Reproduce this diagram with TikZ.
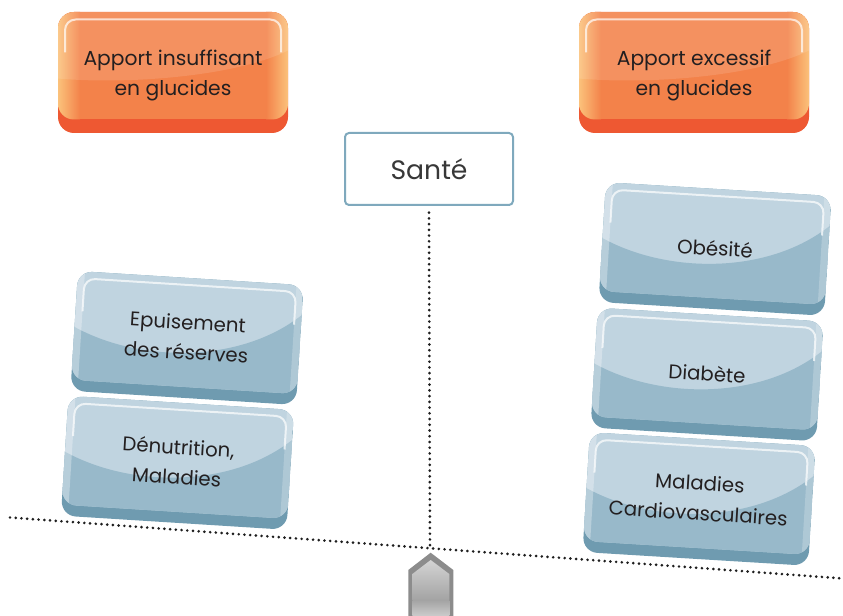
\documentclass[tikz,border=0pt]{standalone}
\usepackage{fontspec}
\setmainfont{Poppins}
\usetikzlibrary{calc}
\definecolor{txt}{HTML}{231F20}
\definecolor{blight}{HTML}{C0D4E0}
\definecolor{bdark}{HTML}{98B9CA}
\definecolor{bband}{HTML}{6F9BB0}
\definecolor{omid}{HTML}{F3824A}
\definecolor{oedge}{HTML}{FBC27B}
\definecolor{oband}{HTML}{EE5832}
\definecolor{santeline}{HTML}{7FA9BD}
\definecolor{fulcout}{HTML}{8C8C8C}
\definecolor{dotc}{HTML}{1E1E1E}
\newcommand{\gbox}[5]{%
\begin{scope}[shift={(#2,#3)}, rotate=#4]
  \fill[bband, rounded corners=11pt] (-113,-60) rectangle (113,60);
  \begin{scope}
    \clip[rounded corners=11pt] (-113,-60) rectangle (113,49);
    \fill[blight] (-113,-60) rectangle (113,49);
    \fill[bdark] (-113,-4) .. controls (-45,28) and (55,22) .. (113,-30) -- (113,49) -- (-113,49) -- cycle;
    \shade[left color=white, right color=white, middle color=white, opacity=0.0] (-113,-60) rectangle (-100,49);
    \fill[white, opacity=0.3] (-113,-60) rectangle (-106,49);
    \fill[white, opacity=0.22] (106,-60) rectangle (113,49);
  \end{scope}
  \draw[white, opacity=0.7, line width=1.5pt, rounded corners=8pt] (-106,-20) -- (-106,-53) -- (106,-53) -- (106,-20);
  \node[btext] (#1) at (0,-1) {#5};
\end{scope}}
\newcommand{\obox}[4]{%
\begin{scope}[shift={(#2,#3)}]
  \fill[oband, rounded corners=12pt] (-115,-60.5) rectangle (115,60.5);
  \begin{scope}
    \clip[rounded corners=12pt] (-115,-60.5) rectangle (115,47);
    \fill[omid] (-115,-60.5) rectangle (115,47);
    \shade[left color=oedge, right color=omid] (-115,-60.5) rectangle (-93,47);
    \shade[left color=omid, right color=oedge] (93,-60.5) rectangle (115,47);
    \fill[white, opacity=0.12] (-115,-60.5) -- (115,-60.5) -- (115,-22) .. controls (60,5) and (-50,12) .. (-115,6) -- cycle;
  \end{scope}
  \draw[white, opacity=0.7, line width=1.5pt, rounded corners=8pt] (-108,-20) -- (-108,-53) -- (108,-53) -- (108,-20);
  \node[otext] (#1) at (0,3) {#4};
\end{scope}}
\begin{document}
\begin{tikzpicture}[x=0.75pt, y=-0.75pt,
  btext/.style={align=center, text=txt, font=\fontsize{14.8}{22.5}\selectfont, transform shape, inner sep=0pt},
  otext/.style={align=center, text=txt, font=\fontsize{15.2}{22.5}\selectfont, inner sep=0pt},
  santebox/.style={draw=santeline, line width=1.5pt, fill=white, rounded corners=3pt, minimum width=126pt, minimum height=54pt, inner sep=0pt, text=black!78, font=\fontsize{20}{24}\selectfont},
  dotline/.style={dotc, line width=2.2pt, line cap=round, dash pattern=on 0pt off 4.3pt}]
\useasboundingbox (0,0) rectangle (843,616);
% beam and pivot
\coordinate (bL) at (10,517.5);
\coordinate (bR) at (843,578.5);
\coordinate (piv) at (430,548.3);
\draw[dotline] (bL) -- (bR);
% fulcrum
\fill[fulcout] (430.7,552.7) -- (453.3,570) -- (453.3,616) -- (408.3,616) -- (408.3,570) -- cycle;
\shade[top color=black!17, bottom color=black!36] (430.7,560) -- (449.3,574) -- (449.3,600) -- (412.3,600) -- (412.3,574) -- cycle;
\shade[top color=black!36, bottom color=black!20] (449.3,600) -- (449.3,616) -- (412.3,616) -- (412.3,600) -- cycle;
% top boxes
\obox{ins}{173}{72.5}{Apport insuffisant\\en glucides}
\obox{exc}{694}{72.5}{Apport excessif\\en glucides}
\node[santebox] (sante) at (429,169) {Santé};
\draw[dotline] ([yshift=-5pt]sante.south) -- (piv);
% left stack
\gbox{epu}{187}{338}{-3.6}{Epuisement\\des réserves}
\gbox{denu}{177.5}{462.8}{-3.6}{Dénutrition,\\Maladies}
% right stack
\gbox{obe}{715}{249}{-3.5}{Obésité}
\gbox{dia}{707}{374.5}{-3.5}{Diabète}
\gbox{card}{699}{499}{-3.5}{Maladies\\Cardiovasculaires}
\end{tikzpicture}
\end{document}
